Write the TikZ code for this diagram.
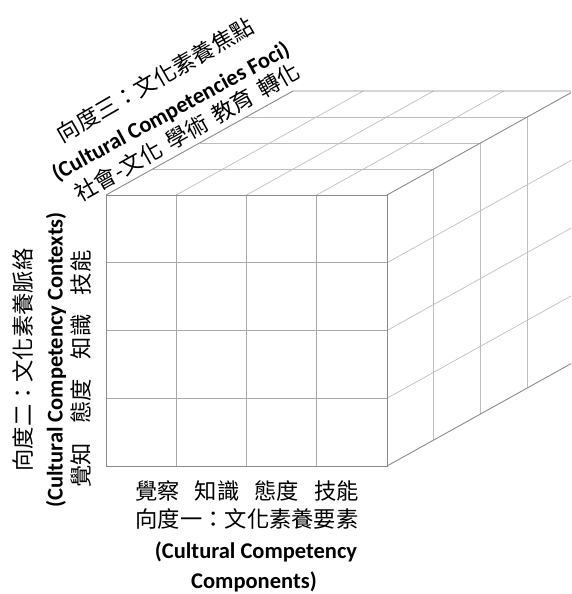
\documentclass[tikz,border=0pt]{standalone}
\usepackage{fontspec}
\setmainfont{Carlito}
\newfontfamily\cjk{Noto Sans CJK TC}
\definecolor{edgecol}{HTML}{8A8A8A}
\definecolor{gridcol}{HTML}{A8A8A8}
\definecolor{backcol}{HTML}{BEBEBE}
\begin{document}
\begin{tikzpicture}[x=1pt,y=-1pt,
  outer/.style={draw=edgecol,line width=0.9pt},
  inner/.style={draw=gridcol,line width=0.7pt},
  backline/.style={draw=backcol,line width=0.7pt},
  cjklabel/.style={inner sep=0pt,font=\cjk\fontsize{22.3}{26}\selectfont},
  enlabel/.style={inner sep=0pt,font=\bfseries\fontsize{22.5}{26}\selectfont}]
\useasboundingbox (0,0) rectangle (571,594);
\begin{scope}
\clip (0,0) rectangle (571,594);
% top face
\foreach \k in {1,2,3} \draw[backline] ({106+46.75*\k},{195-26*\k}) -- ++(281,0);
\foreach \i in {1,2,3} \draw[backline] ({106+70.25*\i},195) -- ++(187,-104);
% right face
\foreach \j in {1,2,3} \draw[backline] (387,{195+67.75*\j}) -- ++(187,-104);
\foreach \k in {1,2,3} \draw[backline] ({387+46.75*\k},{195-26*\k}) -- ++(0,271);
% front face grid
\foreach \i in {1,2,3} \draw[inner] ({106+70.25*\i},195) -- ({106+70.25*\i},466);
\foreach \j in {1,2,3} \draw[inner] (106,{195+67.75*\j}) -- (387,{195+67.75*\j});
% outer edges
\draw[outer] (106,195) rectangle (387,466);
\draw[outer] (106,195) -- (293,91) -- (574,91) -- (574,362) -- (387,466);
\draw[outer] (387,195) -- (574,91);
\end{scope}
% bottom labels
\node[cjklabel] (b1) at (247,491) {覺察\hspace{15pt}知識\hspace{15pt}態度\hspace{15pt}技能};
\node[cjklabel] (b2) at (247,519) {向度一：文化素養要素};
\node[enlabel] (b3) at (256,552) {(Cultural Competency};
\node[enlabel] (b4) at (254,582) {Components)};
% left labels
\node[cjklabel,rotate=90] (l1) at (23,360) {向度二：文化素養脈絡};
\node[enlabel,rotate=90] (l2) at (56,360) {(Cultural Competency Contexts)};
\node[cjklabel,rotate=90] (l3) at (81,369) {覺知\hspace{19.5pt}態度\hspace{19.5pt}知識\hspace{19.5pt}技能};
% top labels
\node[cjklabel,rotate=30] (t1) at (155,80) {向度三：文化素養焦點};
\node[enlabel,rotate=28.5] (t2) at (171,112) {(Cultural Competencies Foci)};
\node[cjklabel,rotate=29.5] (t3) at (187,132) {社會-文化\hspace{8pt}學術\hspace{8pt}教育\hspace{8pt}轉化};
\end{tikzpicture}
\end{document}
